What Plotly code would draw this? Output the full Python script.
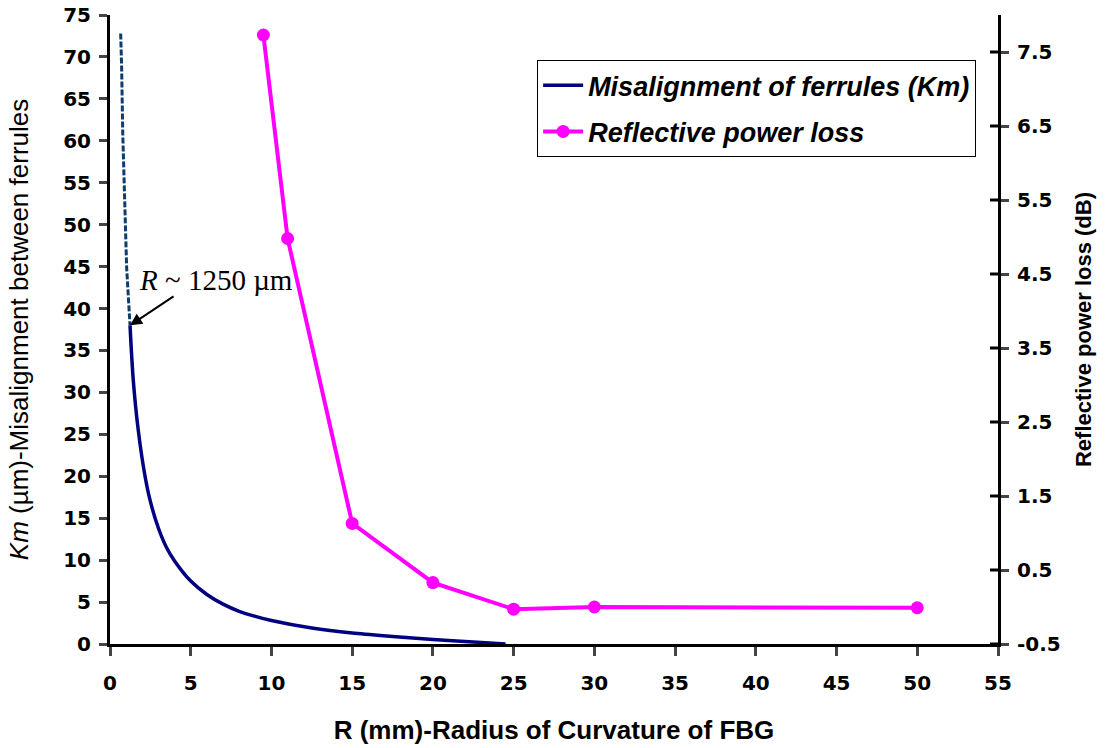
import plotly.graph_objects as go

# Misalignment of ferrules Km (um) vs R (mm) -- dashed (extrapolated) part
r_dash = [0.66, 0.72, 0.79, 0.89, 1.03, 1.24]
km_dash = [72.8, 68.9, 60.9, 52.9, 44.9, 38.0]

# solid part
r_solid = [1.24, 1.44, 1.75, 2.17, 2.5, 3.0, 3.5, 4.0, 5.0, 6.0, 7.0, 8.0, 9.0, 10.0, 12.5, 15.0, 17.5, 20.0, 22.5, 24.5]
km_solid = [38.0, 31.5, 25.5, 20.0, 17.0, 13.8, 11.5, 9.9, 7.5, 5.9, 4.75, 3.9, 3.3, 2.8, 1.9, 1.3, 0.9, 0.55, 0.25, 0.0]

# Reflective power loss (dB)
r_loss = [9.5, 11, 15, 20, 25, 30, 50]
loss_db = [7.73, 4.98, 1.13, 0.33, -0.03, 0.0, -0.01]

x_ticks = list(range(0, 56, 5))
y_ticks = list(range(0, 76, 5))
y2_ticks = [-0.5, 0.5, 1.5, 2.5, 3.5, 4.5, 5.5, 6.5, 7.5]

FONT = "Liberation Sans, Arial, sans-serif"
TICKFONT = "DejaVu Sans, Liberation Sans, Arial, sans-serif"
tickfont = dict(family=TICKFONT, size=20, color="black", weight="bold")


def bold(vals):
    return ["<b>%s</b>" % v for v in vals]


fig = go.Figure()
fig.add_trace(go.Scatter(x=r_dash, y=km_dash, mode="lines", showlegend=False, legendgroup="a",
                         line=dict(color="#0b3d6e", width=3, dash="6px,2px"), yaxis="y"))
fig.add_trace(go.Scatter(x=r_solid, y=km_solid, mode="lines", name="Misalignment of ferrules (Km)",
                         legendgroup="a",
                         line=dict(color="#000080", width=3.5, shape="spline", smoothing=0.8), yaxis="y"))
fig.add_trace(go.Scatter(x=r_loss, y=loss_db, mode="lines+markers", name="Reflective power loss",
                         legendgroup="b",
                         line=dict(color="#ff00ff", width=4),
                         marker=dict(color="#ff00ff", size=13), yaxis="y2"))

fig.update_layout(
    width=1110, height=748,
    margin=dict(l=110, r=112, t=15, b=104, autoexpand=False),
    paper_bgcolor="white", plot_bgcolor="white",
    showlegend=True,
    legend=dict(x=0.481, y=0.928, xanchor="left", yanchor="top",
                bordercolor="black", borderwidth=1, bgcolor="white",
                font=dict(family=FONT, size=27, color="black", style="italic", weight="bold"),
                tracegroupgap=8, itemwidth=40),
    xaxis=dict(range=[0, 55], tickvals=x_ticks, ticktext=bold(x_ticks), ticks="outside",
               ticklen=9, tickwidth=3, automargin=False, ticklabelstandoff=10,
               showline=True, linewidth=3, linecolor="black", showgrid=False, zeroline=False,
               tickfont=tickfont,
               title=dict(text="<b>R (mm)-Radius of Curvature of FBG</b>",
                          font=dict(family=FONT, size=26, color="black"), standoff=27)),
    yaxis=dict(range=[0, 75], tickvals=y_ticks, ticktext=bold(y_ticks), ticks="outside",
               ticklen=8, tickwidth=3, automargin=False, ticklabelstandoff=4,
               showline=True, linewidth=3, linecolor="black", showgrid=False, zeroline=False,
               tickfont=tickfont,
               title=dict(text="<i>Km</i> (µm)-Misalignment between ferrules",
                          font=dict(family=FONT, size=26, color="black"), standoff=28)),
    yaxis2=dict(range=[-0.5, 8.0], tickvals=y2_ticks, ticktext=bold(y2_ticks),
                overlaying="y", side="right", anchor="x", automargin=False, ticklabelstandoff=4,
                ticks="outside", ticklen=8, tickwidth=3,
                showline=True, linewidth=3, linecolor="black", showgrid=False, zeroline=False,
                tickfont=tickfont,
                title=dict(text="<b>Reflective power loss (dB)</b>",
                           font=dict(family=FONT, size=22, color="black"), standoff=16)),
)

# inner halves of the right-axis ticks (ticks cross the axis line)
for v in y2_ticks:
    fig.add_shape(type="line", xref="paper", yref="y2", x0=1 - 8 / 888, x1=1, y0=v, y1=v,
                  line=dict(color="black", width=3))

fig.add_annotation(x=1.24, y=38.0, xref="x", yref="y", text="", showarrow=True,
                   ax=45, ay=-30, arrowhead=2, arrowsize=1.2, arrowwidth=2, arrowcolor="black")
fig.add_annotation(x=1.67, y=43.4, xref="x", yref="y", xanchor="left", yanchor="middle",
                   text="<i>R</i> ~ 1250 µm", showarrow=False,
                   font=dict(family="Liberation Serif, Times New Roman, serif", size=29, color="black"))

fig.write_html("out.html", config={"displayModeBar": False},
               post_script="document.body.style.margin='0';document.body.style.overflow='hidden';")
